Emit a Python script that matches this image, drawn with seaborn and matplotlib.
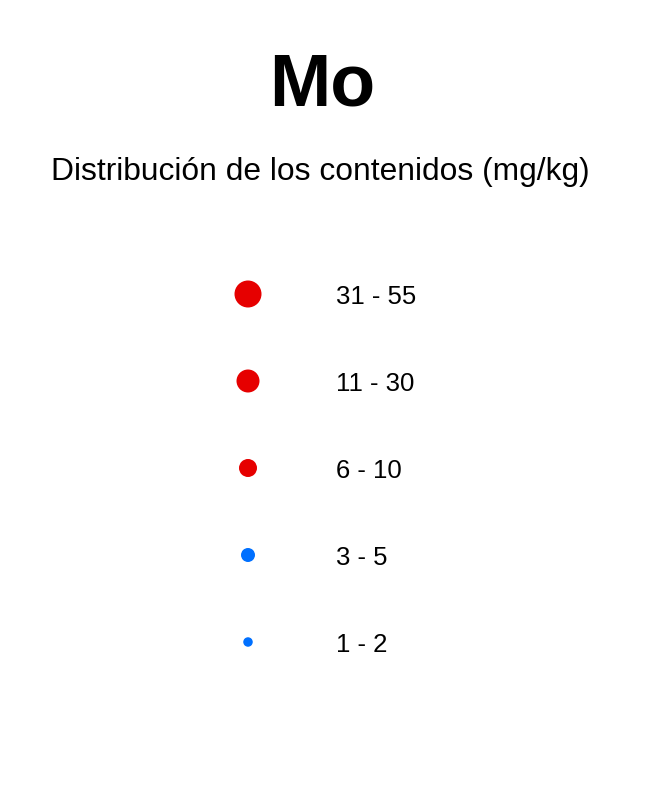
import seaborn as sns
import matplotlib.pyplot as plt
import pandas as pd

# Legend classes (mg/kg), top to bottom
labels = ["31 - 55", "11 - 30", "6 - 10", "3 - 5", "1 - 2"]
colors = ["#E60000", "#E60000", "#E60000", "#0070FF", "#0070FF"]
dot_px = [27, 23, 18, 14, 9.5]

sns.set_theme(style="white")
plt.rcParams['font.family'] = ['Liberation Sans', 'DejaVu Sans']
plt.rcParams['text.color'] = 'black'

df = pd.DataFrame({
    'label': labels,
    'rank': range(len(labels)),
    'col': 0,
    'size': [(d * 0.72) ** 2 for d in dot_px],
})

fig = plt.figure(figsize=(6.51, 8.03), dpi=100)
ax = fig.add_axes([0, 0, 1, 1])

sns.scatterplot(data=df, x='col', y='rank', hue='label', palette=dict(zip(labels, colors)),
                size='label', sizes=dict(zip(labels, df['size'])), legend=False,
                linewidth=0, ax=ax)

# map data units to the page: column at 248 px, rows every 87 px from 295 px
step = 87
top = 295
ax.set_xlim(-248 / step, (651 - 248) / step)
ax.set_ylim((803 - top) / step, -top / step)
ax.set_axis_off()

for _, row in df.iterrows():
    ax.annotate(row['label'], (row['col'], row['rank']), xytext=(63.4, 0),
                textcoords='offset points', fontsize=18.5, va='center_baseline',
                ha='left', color='black')

fig.text(322 / 651, 1 - 106 / 803, "Mo", fontsize=53, fontweight='bold',
         ha='center', va='baseline', color='black')
fig.text(320 / 651, 1 - 180 / 803, "Distribución de los contenidos (mg/kg)",
         fontsize=22.9, ha='center', va='baseline', color='black')

fig.savefig("out.png", dpi=100)
